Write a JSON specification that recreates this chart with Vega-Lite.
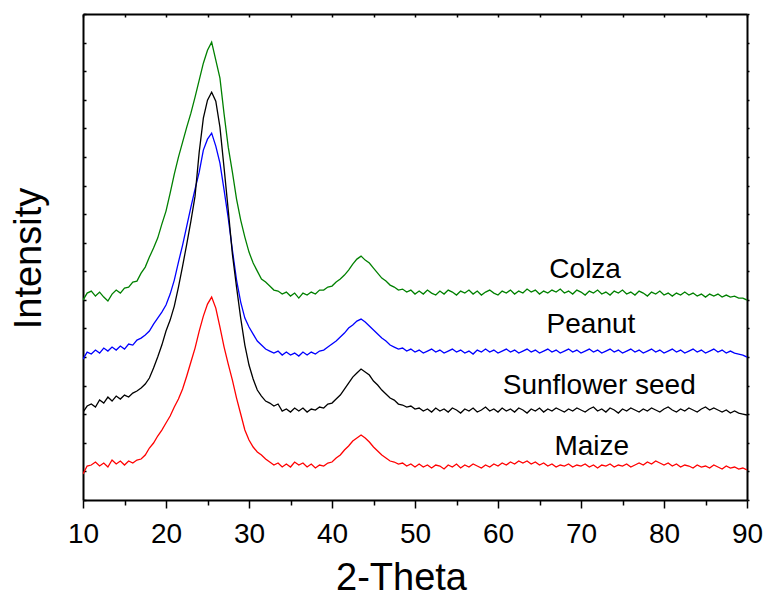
{
  "$schema": "https://vega.github.io/schema/vega-lite/v6.json",
  "width": 664,
  "height": 486,
  "autosize": "none",
  "padding": {"left": 83, "top": 14, "right": 19, "bottom": 97},
  "background": "white",
  "config": {"view": {"stroke": null}, "font": "Liberation Sans"},
  "layer": [
    {
      "data": {"values": [
        {"t":10,"m":26,"s":88,"p":141,"c":200},
        {"t":10.5,"m":34,"s":94,"p":148,"c":207},
        {"t":11,"m":35,"s":96,"p":146,"c":209},
        {"t":11.5,"m":38,"s":93,"p":150,"c":204},
        {"t":12,"m":34,"s":100,"p":147,"c":208},
        {"t":12.5,"m":37,"s":97,"p":152,"c":203},
        {"t":13,"m":33,"s":103,"p":149,"c":199},
        {"t":13.5,"m":40,"s":99,"p":153,"c":206},
        {"t":14,"m":36,"s":104,"p":150,"c":210},
        {"t":14.5,"m":39,"s":101,"p":154,"c":207},
        {"t":15,"m":35,"s":105,"p":151,"c":212},
        {"t":15.5,"m":39,"s":103,"p":156,"c":213},
        {"t":16,"m":37,"s":107,"p":155,"c":218},
        {"t":16.5,"m":40,"s":109,"p":160,"c":219},
        {"t":17,"m":41,"s":112,"p":162,"c":227},
        {"t":17.5,"m":45,"s":116,"p":165,"c":233},
        {"t":18,"m":52,"s":122,"p":169,"c":243},
        {"t":18.5,"m":57,"s":132,"p":176,"c":252},
        {"t":19,"m":64,"s":143,"p":182,"c":262},
        {"t":19.5,"m":70,"s":155,"p":188,"c":276},
        {"t":20,"m":77,"s":169,"p":195,"c":289},
        {"t":20.5,"m":84,"s":180,"p":206,"c":307},
        {"t":21,"m":93,"s":194,"p":220,"c":326},
        {"t":21.5,"m":101,"s":213,"p":238,"c":343},
        {"t":22,"m":111,"s":234,"p":255,"c":358},
        {"t":22.5,"m":124,"s":256,"p":274,"c":373},
        {"t":23,"m":138,"s":279,"p":293,"c":387},
        {"t":23.5,"m":152,"s":304,"p":311,"c":403},
        {"t":24,"m":169,"s":348,"p":328,"c":420},
        {"t":24.5,"m":184,"s":382,"p":350,"c":437},
        {"t":25,"m":196,"s":400,"p":361,"c":450},
        {"t":25.5,"m":203,"s":408,"p":367,"c":458},
        {"t":26,"m":192,"s":399,"p":354,"c":440},
        {"t":26.5,"m":173,"s":373,"p":337,"c":422},
        {"t":27,"m":153,"s":332,"p":310,"c":386},
        {"t":27.5,"m":136,"s":290,"p":282,"c":353},
        {"t":28,"m":120,"s":246,"p":250,"c":328},
        {"t":28.5,"m":102,"s":213,"p":220,"c":301},
        {"t":29,"m":86,"s":182,"p":198,"c":280},
        {"t":29.5,"m":70,"s":155,"p":182,"c":263},
        {"t":30,"m":60,"s":135,"p":173,"c":248},
        {"t":30.5,"m":53,"s":121,"p":166,"c":237},
        {"t":31,"m":48,"s":110,"p":159,"c":229},
        {"t":31.5,"m":45,"s":104,"p":155,"c":221},
        {"t":32,"m":41,"s":99,"p":151,"c":218},
        {"t":32.5,"m":38,"s":97,"p":149,"c":214},
        {"t":33,"m":35,"s":94,"p":147,"c":210},
        {"t":33.5,"m":37,"s":96,"p":149,"c":209},
        {"t":34,"m":33,"s":89,"p":145,"c":206},
        {"t":34.5,"m":36,"s":91,"p":148,"c":208},
        {"t":35,"m":33,"s":88,"p":145,"c":204},
        {"t":35.5,"m":38,"s":92,"p":147,"c":207},
        {"t":36,"m":35,"s":89,"p":144,"c":202},
        {"t":36.5,"m":37,"s":92,"p":148,"c":207},
        {"t":37,"m":33,"s":88,"p":145,"c":205},
        {"t":37.5,"m":36,"s":91,"p":148,"c":208},
        {"t":38,"m":32,"s":90,"p":146,"c":206},
        {"t":38.5,"m":35,"s":93,"p":149,"c":210},
        {"t":39,"m":34,"s":92,"p":150,"c":210},
        {"t":39.5,"m":37,"s":96,"p":153,"c":213},
        {"t":40,"m":38,"s":97,"p":156,"c":214},
        {"t":40.5,"m":42,"s":101,"p":159,"c":218},
        {"t":41,"m":45,"s":105,"p":163,"c":221},
        {"t":41.5,"m":50,"s":111,"p":167,"c":225},
        {"t":42,"m":54,"s":117,"p":172,"c":230},
        {"t":42.5,"m":59,"s":123,"p":175,"c":236},
        {"t":43,"m":62,"s":127,"p":179,"c":241},
        {"t":43.5,"m":65,"s":131,"p":181,"c":244},
        {"t":44,"m":62,"s":128,"p":178,"c":240},
        {"t":44.5,"m":58,"s":125,"p":174,"c":237},
        {"t":45,"m":53,"s":119,"p":170,"c":232},
        {"t":45.5,"m":49,"s":115,"p":166,"c":227},
        {"t":46,"m":45,"s":110,"p":162,"c":222},
        {"t":46.5,"m":42,"s":106,"p":159,"c":219},
        {"t":47,"m":39,"s":102,"p":155,"c":215},
        {"t":47.5,"m":38,"s":100,"p":153,"c":213},
        {"t":48,"m":36,"s":96,"p":151,"c":210},
        {"t":48.5,"m":37,"s":95,"p":152,"c":211},
        {"t":49,"m":34,"s":93,"p":149,"c":208},
        {"t":49.5,"m":36,"s":94,"p":151,"c":210},
        {"t":50,"m":33,"s":91,"p":148,"c":206},
        {"t":50.5,"m":36,"s":92,"p":150,"c":209},
        {"t":51,"m":33,"s":89,"p":147,"c":206},
        {"t":51.5,"m":35,"s":91,"p":149,"c":210},
        {"t":52,"m":32,"s":88,"p":151,"c":207},
        {"t":52.5,"m":35,"s":92,"p":148,"c":205},
        {"t":53,"m":34,"s":89,"p":150,"c":209},
        {"t":53.5,"m":31,"s":91,"p":147,"c":206},
        {"t":54,"m":35,"s":88,"p":149,"c":210},
        {"t":54.5,"m":33,"s":92,"p":151,"c":208},
        {"t":55,"m":36,"s":90,"p":148,"c":205},
        {"t":55.5,"m":32,"s":87,"p":150,"c":209},
        {"t":56,"m":35,"s":91,"p":147,"c":207},
        {"t":56.5,"m":33,"s":89,"p":149,"c":210},
        {"t":57,"m":36,"s":92,"p":146,"c":206},
        {"t":57.5,"m":34,"s":88,"p":150,"c":209},
        {"t":58,"m":32,"s":90,"p":148,"c":205},
        {"t":58.5,"m":35,"s":93,"p":151,"c":208},
        {"t":59,"m":33,"s":89,"p":148,"c":210},
        {"t":59.5,"m":36,"s":91,"p":150,"c":207},
        {"t":60,"m":34,"s":88,"p":147,"c":205},
        {"t":60.5,"m":37,"s":92,"p":149,"c":209},
        {"t":61,"m":35,"s":89,"p":151,"c":207},
        {"t":61.5,"m":38,"s":91,"p":148,"c":210},
        {"t":62,"m":36,"s":88,"p":150,"c":206},
        {"t":62.5,"m":39,"s":92,"p":147,"c":209},
        {"t":63,"m":37,"s":90,"p":149,"c":207},
        {"t":63.5,"m":39,"s":87,"p":151,"c":211},
        {"t":64,"m":36,"s":91,"p":148,"c":208},
        {"t":64.5,"m":38,"s":89,"p":150,"c":210},
        {"t":65,"m":35,"s":92,"p":147,"c":206},
        {"t":65.5,"m":37,"s":88,"p":149,"c":209},
        {"t":66,"m":34,"s":91,"p":151,"c":207},
        {"t":66.5,"m":36,"s":89,"p":148,"c":210},
        {"t":67,"m":33,"s":92,"p":150,"c":208},
        {"t":67.5,"m":35,"s":90,"p":147,"c":211},
        {"t":68,"m":34,"s":88,"p":149,"c":207},
        {"t":68.5,"m":36,"s":91,"p":151,"c":209},
        {"t":69,"m":33,"s":89,"p":148,"c":206},
        {"t":69.5,"m":35,"s":92,"p":150,"c":210},
        {"t":70,"m":34,"s":90,"p":147,"c":208},
        {"t":70.5,"m":36,"s":88,"p":149,"c":205},
        {"t":71,"m":33,"s":91,"p":151,"c":209},
        {"t":71.5,"m":35,"s":93,"p":148,"c":207},
        {"t":72,"m":32,"s":89,"p":150,"c":210},
        {"t":72.5,"m":35,"s":91,"p":147,"c":206},
        {"t":73,"m":34,"s":88,"p":149,"c":208},
        {"t":73.5,"m":36,"s":92,"p":151,"c":205},
        {"t":74,"m":33,"s":90,"p":148,"c":209},
        {"t":74.5,"m":35,"s":87,"p":150,"c":207},
        {"t":75,"m":34,"s":91,"p":147,"c":210},
        {"t":75.5,"m":36,"s":89,"p":149,"c":206},
        {"t":76,"m":33,"s":92,"p":151,"c":208},
        {"t":76.5,"m":35,"s":90,"p":148,"c":205},
        {"t":77,"m":37,"s":88,"p":150,"c":209},
        {"t":77.5,"m":35,"s":91,"p":147,"c":207},
        {"t":78,"m":38,"s":89,"p":149,"c":204},
        {"t":78.5,"m":36,"s":92,"p":151,"c":208},
        {"t":79,"m":39,"s":90,"p":148,"c":206},
        {"t":79.5,"m":37,"s":88,"p":150,"c":209},
        {"t":80,"m":35,"s":91,"p":147,"c":205},
        {"t":80.5,"m":37,"s":93,"p":149,"c":207},
        {"t":81,"m":34,"s":90,"p":151,"c":204},
        {"t":81.5,"m":36,"s":88,"p":148,"c":207},
        {"t":82,"m":33,"s":91,"p":150,"c":205},
        {"t":82.5,"m":35,"s":89,"p":147,"c":208},
        {"t":83,"m":34,"s":92,"p":149,"c":205},
        {"t":83.5,"m":32,"s":90,"p":151,"c":207},
        {"t":84,"m":35,"s":88,"p":148,"c":204},
        {"t":84.5,"m":33,"s":91,"p":150,"c":206},
        {"t":85,"m":34,"s":93,"p":147,"c":203},
        {"t":85.5,"m":32,"s":90,"p":149,"c":206},
        {"t":86,"m":35,"s":92,"p":151,"c":204},
        {"t":86.5,"m":33,"s":90,"p":148,"c":206},
        {"t":87,"m":31,"s":88,"p":150,"c":203},
        {"t":87.5,"m":34,"s":90,"p":147,"c":205},
        {"t":88,"m":32,"s":87,"p":149,"c":203},
        {"t":88.5,"m":33,"s":89,"p":147,"c":204},
        {"t":89,"m":31,"s":87,"p":146,"c":202},
        {"t":89.5,"m":32,"s":86,"p":145,"c":202},
        {"t":90,"m":30,"s":85,"p":143,"c":200}
      ]},
      "transform": [{"fold": ["c", "p", "s", "m"], "as": ["series", "h"]}],
      "mark": {"type": "line", "strokeWidth": 1.3, "clip": true},
      "encoding": {
        "x": {
          "field": "t", "type": "quantitative",
          "scale": {"domain": [10, 90], "nice": false, "zero": false},
          "axis": {
            "orient": "bottom",
            "values": [10, 15, 20, 25, 30, 35, 40, 45, 50, 55, 60, 65, 70, 75, 80, 85, 90],
            "labelExpr": "datum.value % 10 === 0 ? datum.label : ''",
            "labelFlush": false, "labelOverlap": false,
            "tickSize": {"condition": {"test": "datum.value % 10 === 0", "value": 8}, "value": 5},
            "tickColor": "black", "tickWidth": 1.5,
            "domainColor": "black", "domainWidth": 2,
            "labelFontSize": 28, "labelColor": "black", "labelPadding": 12, "labelFont": "Liberation Sans",
            "grid": false,
            "title": "2-Theta", "titleFontSize": 38, "titleFontWeight": "normal", "titleColor": "black",
            "titleFont": "Liberation Sans",
            "titleX": 318, "titleY": 89, "titleBaseline": "alphabetic", "titleAlign": "center"
          }
        },
        "y": {
          "field": "h", "type": "quantitative",
          "scale": {"domain": [0, 486.2], "nice": false, "zero": false},
          "axis": {
            "orient": "left",
            "values": [0, 28.6, 57.2, 85.8, 114.4, 143, 171.6, 200.2, 228.8, 257.4, 286, 314.6, 343.2, 371.8, 400.4, 429, 457.6, 486.2],
            "labels": false, "tickSize": -3, "tickColor": "black", "tickWidth": 1.5,
            "domainColor": "black", "domainWidth": 2, "grid": false,
            "title": "Intensity", "titleFontSize": 38, "titleFontWeight": "normal", "titleColor": "black",
            "titleFont": "Liberation Sans",
            "titleX": -43, "titleY": 244, "titleAngle": -90, "titleBaseline": "alphabetic", "titleAlign": "center"
          }
        },
        "color": {
          "field": "series", "type": "nominal",
          "scale": {"domain": ["c", "p", "s", "m"], "range": ["#008000", "#0000ff", "#000000", "#ff0000"]},
          "legend": null
        }
      }
    },
    {
      "data": {"values": [
        {"label": "Colza", "x": 70.5, "y": 222},
        {"label": "Peanut", "x": 71.2, "y": 167},
        {"label": "Sunflower seed", "x": 72.2, "y": 106},
        {"label": "Maize", "x": 71.3, "y": 45}
      ]},
      "mark": {"type": "text", "fontSize": 28, "baseline": "alphabetic", "align": "center", "color": "black", "font": "Liberation Sans"},
      "encoding": {
        "x": {
          "field": "x", "type": "quantitative",
          "scale": {"domain": [10, 90], "nice": false, "zero": false},
          "axis": {
            "orient": "top",
            "values": [10, 15, 20, 25, 30, 35, 40, 45, 50, 55, 60, 65, 70, 75, 80, 85, 90],
            "labels": false, "tickSize": -3, "tickColor": "black", "tickWidth": 1.5,
            "domainColor": "black", "domainWidth": 2, "grid": false, "title": null
          }
        },
        "y": {
          "field": "y", "type": "quantitative",
          "scale": {"domain": [0, 486.2], "nice": false, "zero": false},
          "axis": {
            "orient": "right",
            "values": [0, 28.6, 57.2, 85.8, 114.4, 143, 171.6, 200.2, 228.8, 257.4, 286, 314.6, 343.2, 371.8, 400.4, 429, 457.6, 486.2],
            "labels": false, "tickSize": 2, "tickColor": "black", "tickWidth": 1.5,
            "domainColor": "black", "domainWidth": 2, "grid": false, "title": null
          }
        },
        "text": {"field": "label"}
      }
    }
  ],
  "resolve": {"axis": {"x": "independent", "y": "independent"}}
}
